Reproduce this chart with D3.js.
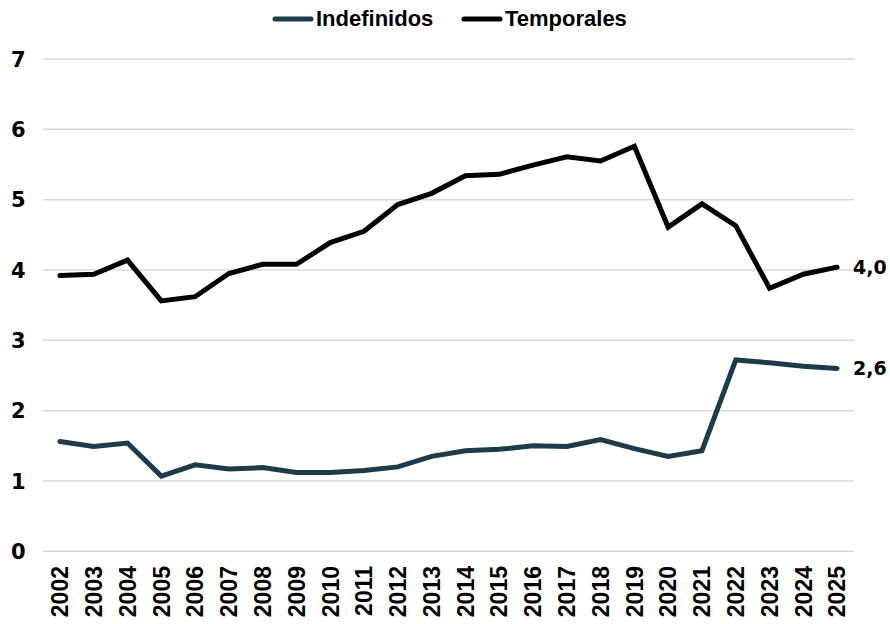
<!DOCTYPE html>
<html>
<head>
<meta charset="utf-8">
<script src="https://cdn.jsdelivr.net/npm/d3@7"></script>
<style>
  body { margin: 0; background: #fff; }
  svg { display: block; }
</style>
</head>
<body>
<div id="chart"></div>
<script>
var years = ["2002","2003","2004","2005","2006","2007","2008","2009","2010","2011","2012","2013",
             "2014","2015","2016","2017","2018","2019","2020","2021","2022","2023","2024","2025"];
var indefinidos = [1.56,1.49,1.54,1.07,1.23,1.17,1.19,1.12,1.12,1.15,1.20,1.35,
                   1.43,1.45,1.50,1.49,1.59,1.46,1.35,1.43,2.72,2.68,2.63,2.60];
var temporales = [3.92,3.94,4.14,3.56,3.62,3.95,4.08,4.08,4.39,4.55,4.93,5.09,
                  5.34,5.36,5.49,5.61,5.55,5.76,4.61,4.94,4.63,3.74,3.94,4.04];
var yTicks = [0,1,2,3,4,5,6,7];
var seriesNames = ["Indefinidos","Temporales"];
var seriesColors = ["#1f3b4b","#000000"];
var endLabels = ["2,6","4,0"];

var width = 890, height = 624;
var svg = d3.select("#chart").append("svg").attr("width", width).attr("height", height);

var x = d3.scaleBand().domain(years).range([43, 854]);
var y = d3.scaleLinear().domain([0, 7]).range([551.3, 59]);

// grid lines
svg.append("g").selectAll("line").data(yTicks).enter().append("line")
  .attr("x1", 43).attr("x2", 854)
  .attr("y1", function(d){ return y(d); }).attr("y2", function(d){ return y(d); })
  .attr("stroke", "#d9d9d9").attr("stroke-width", 1.5);

// y labels
svg.append("g").selectAll("text").data(yTicks).enter().append("text")
  .attr("x", 11).attr("y", function(d){ return y(d); }).attr("dy", "0.36em")
  .attr("font-family", "DejaVu Sans").attr("font-weight", "bold").attr("font-size", 21)
  .attr("fill", "#000")
  .text(function(d){ return d; });

// x labels
svg.append("g").selectAll("text").data(years).enter().append("text")
  .attr("transform", function(d){ return "translate(" + (x(d) + x.bandwidth()/2) + ",566) rotate(-90)"; })
  .attr("text-anchor", "end").attr("dy", "0.36em")
  .attr("font-family", "Liberation Sans, Arial").attr("font-weight", "bold").attr("font-size", 23)
  .attr("fill", "#000")
  .text(function(d){ return d; });

var line = d3.line()
  .x(function(d, i){ return x(years[i]) + x.bandwidth()/2; })
  .y(function(d){ return y(d); });

var allSeries = [indefinidos, temporales];
allSeries.forEach(function(s, k){
  svg.append("path").datum(s)
    .attr("d", line)
    .attr("fill", "none")
    .attr("stroke", seriesColors[k])
    .attr("stroke-width", 5)
    .attr("stroke-linejoin", "miter")
    .attr("stroke-linecap", "round");
  var last = s.length - 1;
  svg.append("text")
    .attr("x", x(years[last]) + x.bandwidth()/2 + 16)
    .attr("y", y(s[last])).attr("dy", "0.36em")
    .attr("font-family", "DejaVu Sans").attr("font-weight", "bold").attr("font-size", 19)
    .attr("fill", "#000")
    .text(endLabels[k]);
});

// legend
var legendX = [273, 462];
seriesNames.forEach(function(name, k){
  var g = svg.append("g").attr("transform", "translate(" + legendX[k] + ",0)");
  g.append("line").attr("x1", 2).attr("x2", 38).attr("y1", 19).attr("y2", 19)
    .attr("stroke", seriesColors[k]).attr("stroke-width", 5).attr("stroke-linecap", "round");
  g.append("text").attr("x", 43).attr("y", 26)
    .attr("font-family", "Liberation Sans, Arial").attr("font-weight", "bold").attr("font-size", 22)
    .attr("fill", "#000")
    .text(name);
});
</script>
</body>
</html>
